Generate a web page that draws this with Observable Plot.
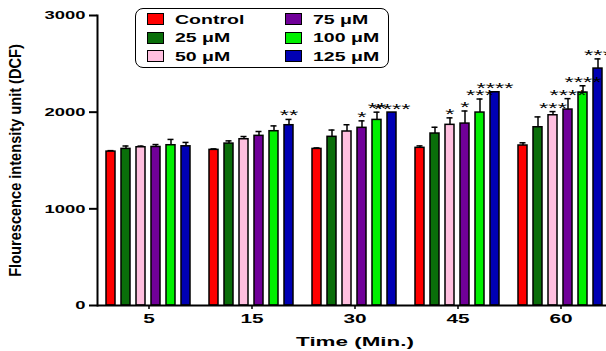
<!DOCTYPE html>
<html>
<head>
<meta charset="utf-8">
<script src="https://cdn.jsdelivr.net/npm/d3@7"></script>
<script src="https://cdn.jsdelivr.net/npm/@observablehq/plot@0.6"></script>
<style>
  html, body { margin: 0; padding: 0; background: #fff; overflow: hidden; }
  #wrap { position: relative; width: 606px; height: 351px; font-family: "Liberation Sans", Arial, sans-serif; }
  #legend { position: absolute; left: 135px; top: 8px; width: 252px; height: 58px; border: 1.5px solid #000; border-radius: 8px; background: #fff; }
  .item { position: absolute; height: 14px; display: flex; align-items: center; }
  .sw { width: 17px; height: 12px; box-sizing: border-box; border: 1.5px solid #000; }
  .lab { margin-left: 11px; font-weight: bold; font-size: 13px; display: inline-block; transform: scaleX(1.5); transform-origin: left center; white-space: nowrap; color: #000; }
</style>
</head>
<body>
<div id="wrap"><div id="legend"></div></div>
<script>
// ---- data ----
const times = ["5", "15", "30", "45", "60"];
const concentrations = ["Control", "25 μM", "50 μM", "75 μM", "100 μM", "125 μM"];
const colors = ["#ff0000", "#0a6e0a", "#ffbfdf", "#700099", "#00f000", "#0000b4"];
const yTicks = [0, 1000, 2000, 3000];

const control = [1592, 1610, 1620, 1631, 1655];
const c25     = [1620, 1675, 1745, 1779, 1844];
const c50     = [1637, 1720, 1800, 1869, 1968];
const c75     = [1640, 1755, 1838, 1882, 2027];
const c100    = [1658, 1803, 1920, 1996, 2203];
const c125    = [1647, 1865, 1996, 2206, 2451];

const controlErr = [10, 10, 10, 20, 28];
const c25Err     = [30, 28, 70, 65, 107];
const c50Err     = [12, 28, 70, 72, 38];
const c75Err     = [25, 45, 72, 130, 113];
const c100Err    = [60, 55, 80, 140, 70];
const c125Err    = [40, 60, 0, 0, 100];

const controlStars = ["", "", "", "", ""];
const c25Stars     = ["", "", "", "", ""];
const c50Stars     = ["", "", "", "*", "***"];
const c75Stars     = ["", "", "*", "*", "****"];
const c100Stars    = ["", "", "**", "***", "****"];
const c125Stars    = ["", "**", "****", "****", "***"];

const series = [control, c25, c50, c75, c100, c125];
const errors = [controlErr, c25Err, c50Err, c75Err, c100Err, c125Err];
const stars  = [controlStars, c25Stars, c50Stars, c75Stars, c100Stars, c125Stars];

const rows = times.flatMap((t, i) => concentrations.map((c, j) => ({
  time: t, conc: c, value: series[j][i], err: errors[j][i], stars: stars[j][i]
})));
const withErr = rows.filter(d => d.err > 0);
const withStars = rows.filter(d => d.stars);
const errTop = d => d.value + d.err;

const chart = Plot.plot({
  width: 606,
  height: 351,
  marginLeft: 97,
  marginRight: -6,
  marginTop: 15,
  marginBottom: 46,
  style: { fontFamily: "Liberation Sans, Arial, sans-serif", color: "#000", background: "transparent", overflow: "visible" },
  fx: { domain: times, paddingInner: 0, paddingOuter: 0, label: null },
  x: { domain: concentrations, paddingInner: 0.38, paddingOuter: 0.58, axis: null },
  y: { domain: [0, 3000], label: null },
  color: { domain: concentrations, range: colors },
  marks: [
    Plot.ruleX(withErr, { fx: "time", x: "conc", y1: "value", y2: errTop, stroke: "#000", strokeWidth: 1.5 }),
    Plot.tickY(withErr, { fx: "time", x: "conc", y: errTop, stroke: "#000", strokeWidth: 1.5, insetLeft: 1.5, insetRight: 1.5 }),
    Plot.barY(rows, { fx: "time", x: "conc", y: "value", fill: "conc", stroke: "#000", strokeWidth: 1.5 }),
    Plot.text(withStars, { fx: "time", x: "conc", y: errTop, text: "stars", lineAnchor: "bottom", dy: 1, fontSize: 14, fill: "#000" }),
    Plot.ruleY([0], { stroke: "#000", strokeWidth: 2 }),
    Plot.frame({ anchor: "left", facetAnchor: "left", stroke: "#000", strokeWidth: 2 }),
    Plot.axisY({ ticks: yTicks, tickFormat: d3.format("d"), tickSize: 8, tickPadding: 4, strokeWidth: 2,
      fontSize: 11.5, fontWeight: "bold", label: "Flourescence intensity unit (DCF)", labelArrow: "none",
      labelAnchor: "center", labelOffset: 88 }),
    Plot.axisFx({ anchor: "bottom", tickSize: 4, tickPadding: 4, strokeWidth: 1.5, fontSize: 13, fontWeight: "bold",
      label: "Time (Min.)", labelAnchor: "center", labelOffset: 40 })
  ]
});

document.getElementById("wrap").prepend(chart);

// the source figure is stretched horizontally: widen the glyphs about their anchor point
function stretch(svg, label, k) {
  svg.querySelectorAll(`g[aria-label="${label}"] text`).forEach(t => {
    const list = t.transform.baseVal;
    const m = list.numberOfItems ? list.consolidate().matrix : svg.createSVGMatrix();
    const xa = parseFloat(t.getAttribute("x"));
    const x = Number.isFinite(xa) && !/em/.test(t.getAttribute("x")) ? xa : 0;
    const ax = m.a * x + m.e;
    const n = [k * m.a, m.b, k * m.c, m.d, k * m.e + ax * (1 - k), m.f];
    t.setAttribute("transform", `matrix(${n.join(",")})`);
  });
}
const svg = chart.tagName.toLowerCase() === "svg" ? chart : chart.querySelector("svg");
stretch(svg, "y-axis tick label", 1.6);
stretch(svg, "fx-axis tick label", 1.6);
stretch(svg, "fx-axis label", 1.75);
stretch(svg, "y-axis label", 1.15);
stretch(svg, "text", 1.7);
svg.querySelectorAll('g[aria-label="y-axis label"] text').forEach(t => t.setAttribute("font-size", 14.6));
svg.querySelectorAll('g[aria-label="fx-axis label"] text').forEach(t => {
  t.setAttribute("font-size", 12.8);
  t.setAttribute("font-weight", "bold");
});

// legend inside the plot frame
const legend = document.getElementById("legend");
concentrations.forEach((c, i) => {
  const col = Math.floor(i / 3), row = i % 3;
  const item = document.createElement("div");
  item.className = "item";
  item.style.left = (11 + col * 138) + "px";
  item.style.top = (3 + row * 18.5) + "px";
  const sw = document.createElement("div");
  sw.className = "sw";
  sw.style.background = colors[i];
  const lab = document.createElement("span");
  lab.className = "lab";
  lab.textContent = c;
  item.append(sw, lab);
  legend.append(item);
});
</script>
</body>
</html>
